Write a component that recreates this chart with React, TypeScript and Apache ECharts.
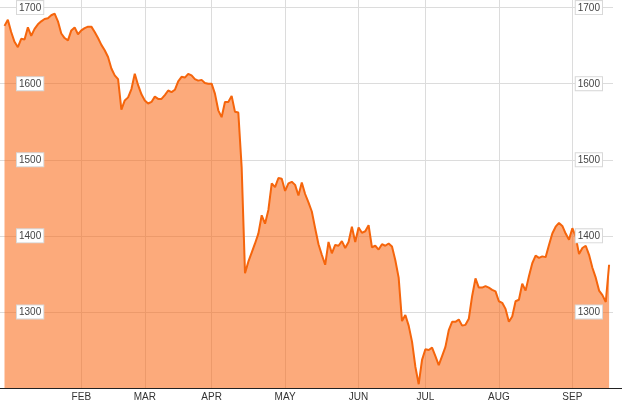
import React, { useEffect, useRef } from "react";
import * as echarts from "echarts";

// Daily closing values (trading days)
const prices: number[] = [
  1676, 1684, 1668, 1655, 1648, 1659, 1658, 1674, 1663, 1672,
  1678, 1682, 1685, 1686, 1690, 1692, 1682, 1666, 1660, 1657,
  1670, 1674, 1665, 1670, 1673, 1675, 1675, 1668, 1660, 1651,
  1644, 1635, 1620, 1611, 1606, 1566, 1578, 1582, 1593, 1613,
  1598, 1586, 1578, 1574, 1576, 1583, 1580, 1580, 1585, 1591,
  1589, 1592, 1603, 1609, 1608, 1613, 1611, 1606, 1604, 1605,
  1601, 1600, 1600, 1587, 1565, 1556, 1576, 1576, 1584, 1563,
  1562, 1490, 1351, 1366, 1378, 1390, 1403, 1427, 1416, 1434,
  1469, 1464, 1476, 1475, 1459, 1469, 1471, 1467, 1453, 1470,
  1455, 1444, 1432, 1410, 1389, 1375, 1362, 1392, 1377, 1388,
  1387, 1393, 1384, 1392, 1412, 1392, 1411, 1404, 1406, 1414,
  1385, 1387, 1382, 1389, 1387, 1390, 1386, 1368, 1345, 1288,
  1296, 1282, 1261, 1228, 1205, 1237, 1251, 1250, 1253, 1242,
  1230, 1242, 1254, 1276, 1287, 1287, 1290, 1282, 1283, 1291,
  1321, 1344, 1332, 1332, 1334, 1332, 1329, 1327, 1314, 1312,
  1304, 1287, 1294, 1314, 1316, 1337, 1328, 1347, 1364, 1374,
  1371, 1373, 1372, 1388, 1403, 1412, 1417, 1413, 1403, 1395,
  1410, 1399, 1376, 1384, 1387, 1375, 1358, 1345, 1328, 1322,
  1313, 1362,
];

const categories: string[] = prices.map((_, i) => String(i));

const monthLabels: string[] = ["FEB", "MAR", "APR", "MAY", "JUN", "JUL", "AUG", "SEP"];
const monthStartIndex: number[] = [23, 42, 62, 84, 106, 126, 148, 170];

const yMin = 1200;
const yMaxGrid = 1700;
const yMaxPlot = 1710;
const yInterval = 100;

const FONT = "'Liberation Sans Narrow', 'Arial Narrow', 'Liberation Sans', Arial, sans-serif";

export default function App() {
  const ref = useRef<HTMLDivElement>(null);

  useEffect(() => {
    if (!ref.current) return;
    const chart = echarts.init(ref.current, undefined, { renderer: "svg" });
    const isMonthStart = (index: number) => monthStartIndex.indexOf(index) >= 0;

    const labelStyle = {
      inside: true,
      color: "#444",
      fontSize: 10,
      fontFamily: FONT,
      backgroundColor: "#fff",
      borderColor: "#d8d8d8",
      borderWidth: 1,
      padding: [2, 2, 1, 2],
      showMinLabel: false,
      formatter: (v: number) => String(v),
    };

    chart.setOption({
      animation: false,
      grid: [
        { left: 0, right: 12, top: 7.6, bottom: 18 },
        { left: 4.5, right: 15.9, top: 0, bottom: 18 },
      ],
      xAxis: [
        { gridIndex: 0, type: "value", show: false, min: 0, max: 1 },
        {
          gridIndex: 1,
          type: "category",
          data: categories,
          boundaryGap: false,
          axisLine: { show: false },
          axisTick: { show: false },
          axisLabel: {
            interval: (index: number) => isMonthStart(index),
            formatter: (_v: string, index: number) => {
              const k = monthStartIndex.indexOf(index);
              return k >= 0 ? monthLabels[k] : "";
            },
            color: "#333",
            fontSize: 10,
            fontFamily: FONT,
            margin: 3,
          },
          splitLine: {
            show: true,
            interval: (index: number) => isMonthStart(index),
            lineStyle: { color: "#dcdcdc", width: 1 },
          },
        },
      ],
      yAxis: [
        {
          gridIndex: 0,
          type: "value",
          position: "left",
          min: yMin,
          max: yMaxGrid,
          interval: yInterval,
          axisLine: { show: false },
          axisTick: { show: false },
          axisLabel: { show: false },
          splitLine: { show: true, lineStyle: { color: "#dcdcdc", width: 1 } },
          z: 0,
        },
        {
          gridIndex: 0,
          type: "value",
          position: "left",
          min: yMin,
          max: yMaxGrid,
          interval: yInterval,
          axisLine: { show: false },
          axisTick: { show: false },
          splitLine: { show: false },
          axisLabel: { ...labelStyle, margin: 17 },
          z: 10,
        },
        {
          gridIndex: 0,
          type: "value",
          position: "right",
          min: yMin,
          max: yMaxGrid,
          interval: yInterval,
          axisLine: { show: false },
          axisTick: { show: false },
          splitLine: { show: false },
          axisLabel: { ...labelStyle, margin: 11 },
          z: 10,
        },
        {
          gridIndex: 1,
          type: "value",
          min: yMin,
          max: yMaxPlot,
          show: false,
          splitLine: { show: false },
        },
      ],
      graphic: [
        {
          type: "line",
          shape: { x1: 0, y1: 388.5, x2: 622, y2: 388.5 },
          style: { stroke: "#222", lineWidth: 1.2 },
          z: 20,
        },
      ],
      series: [
        {
          type: "line",
          xAxisIndex: 1,
          yAxisIndex: 3,
          data: prices,
          symbol: "none",
          lineStyle: { color: "#f5650c", width: 2 },
          areaStyle: { color: "rgba(250,100,15,0.55)", opacity: 1, origin: "start" },
          z: 2,
        },
      ],
    });

    return () => chart.dispose();
  }, []);

  return (
    <div
      ref={ref}
      style={{ position: "fixed", left: 0, top: 0, width: 625, height: 406 }}
    />
  );
}
